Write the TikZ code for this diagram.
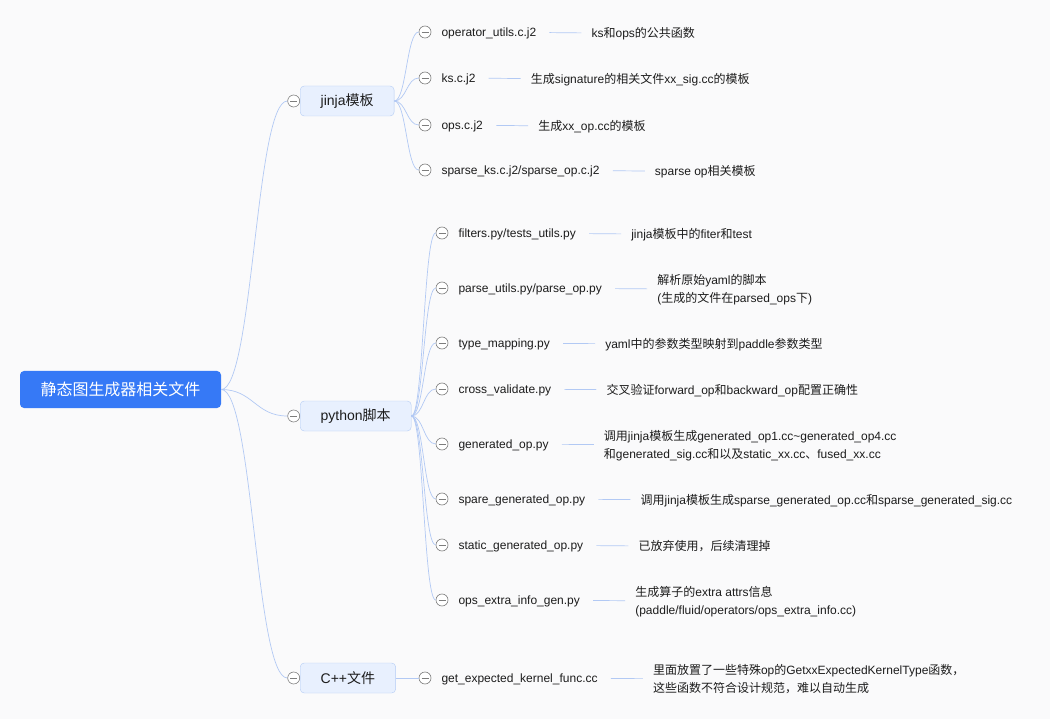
\documentclass[tikz,border=0pt]{standalone}
\usepackage{fontspec}
\setmainfont{Liberation Sans}
\newfontfamily\cjkfont{Noto Sans CJK SC}
\usetikzlibrary{positioning}
% CJK runs switch font by themselves
\XeTeXinterchartokenstate=1
\newXeTeXintercharclass\cjkclass
\newcount\cjkcode
\cjkcode="3000
\loop\ifnum\cjkcode<"A000 \XeTeXcharclass\cjkcode=\cjkclass \advance\cjkcode by 1 \repeat
\cjkcode="FF00
\loop\ifnum\cjkcode<"FFF0 \XeTeXcharclass\cjkcode=\cjkclass \advance\cjkcode by 1 \repeat
\XeTeXinterchartoks 0 \cjkclass={\begingroup\cjkfont}
\XeTeXinterchartoks 4095 \cjkclass={\begingroup\cjkfont}
\XeTeXinterchartoks \cjkclass 0={\endgroup}
\XeTeXinterchartoks \cjkclass 4095={\endgroup}

\definecolor{bgcolor}{RGB}{250,250,251}
\definecolor{rootblue}{RGB}{54,121,246}
\definecolor{topicfill}{RGB}{232,240,254}
\definecolor{topicline}{RGB}{180,204,245}
\definecolor{linkblue}{RGB}{178,201,244}
\definecolor{foldgray}{RGB}{125,125,125}
\definecolor{textdark}{RGB}{28,28,28}
\tikzset{
    rootnode/.style = {draw=none, fill=rootblue, rectangle, rounded corners=4pt, text=white,
      minimum width=201pt, minimum height=37pt, font=\fontsize{16}{20}\selectfont},
    topicnode/.style = {draw=topicline, fill=topicfill, rectangle, rounded corners=4pt, anchor=west,
      inner xsep=20.5pt, minimum height=30pt, text=textdark, font=\fontsize{14}{18}\selectfont},
    foldnode/.style = {circle, draw=foldgray, fill=white, minimum size=12pt, inner sep=0pt, line width=0.6pt,
      path picture={\draw[foldgray, line width=0.6pt] ([xshift=2.5pt]path picture bounding box.west)
      -- ([xshift=-2.5pt]path picture bounding box.east);}},
    leafnode/.style = {rectangle, inner sep=0pt, text height=11pt, text depth=1.5pt, text=textdark,
      font=\fontsize{12}{18}\selectfont},
    descnode/.style = {rectangle, inner sep=0pt, align=left, yshift=-1.5pt, text=textdark,
      font=\fontsize{12}{18}\selectfont},
    link/.style = {draw=linkblue, line width=0.7pt, out=0, in=180, out distance=12pt, in distance=12pt},
    rootlink/.style = {link, out distance=32pt, in distance=32pt},
    gap/.style = {draw=linkblue, line width=0.7pt, shorten <=13pt, shorten >=10pt}
}

\begin{document}
\begin{tikzpicture}[x=1pt, y=-1pt]
\fill[bgcolor] (0,0) rectangle (1050,719);

\node [rootnode, name=root] at (120.5,389.5) {静态图生成器相关文件};

\node [topicnode, name=jinja] at (300,101) {jinja模板};
\node [topicnode, name=python] at (300,416) {python脚本};
\node [topicnode, name=cpp] at (300,678) {C++文件};
\node [foldnode, name=fJ, left=0pt of jinja] {};
\node [foldnode, name=fP, left=0pt of python] {};
\node [foldnode, name=fC, left=0pt of cpp] {};

\draw (root) edge[rootlink] (fJ) edge[rootlink] (fP) edge[rootlink] (fC);

% jinja
\node [foldnode, name=fJ1] at (425,32) {};
\node [leafnode, name=J1, right=10pt of fJ1] {operator\_utils.c.j2};
\node [descnode, name=J1d, right=55pt of J1] {ks和ops的公共函数};
\node [foldnode, name=fJ2] at (425,78) {};
\node [leafnode, name=J2, right=10pt of fJ2] {ks.c.j2};
\node [descnode, name=J2d, right=55pt of J2] {生成signature的相关文件xx\_sig.cc的模板};
\node [foldnode, name=fJ3] at (425,125) {};
\node [leafnode, name=J3, right=10pt of fJ3] {ops.c.j2};
\node [descnode, name=J3d, right=55pt of J3] {生成xx\_op.cc的模板};
\node [foldnode, name=fJ4] at (425,170) {};
\node [leafnode, name=J4, right=10pt of fJ4] {sparse\_ks.c.j2/sparse\_op.c.j2};
\node [descnode, name=J4d, right=55pt of J4] {sparse op相关模板};

\draw (jinja) edge[link] (fJ1) edge[link] (fJ2) edge[link] (fJ3) edge[link] (fJ4);
\draw (J1) edge[gap] (J1d) (J2) edge[gap] (J2d) (J3) edge[gap] (J3d) (J4) edge[gap] (J4d);

% python
\node [foldnode, name=fP1] at (442,233) {};
\node [leafnode, name=P1, right=10pt of fP1] {filters.py/tests\_utils.py};
\node [descnode, name=P1d, right=55pt of P1] {jinja模板中的fiter和test};
\node [foldnode, name=fP2] at (442,288) {};
\node [leafnode, name=P2, right=10pt of fP2] {parse\_utils.py/parse\_op.py};
\node [descnode, name=P2d, right=55pt of P2] {解析原始yaml的脚本\\(生成的文件在parsed\_ops下)};
\node [foldnode, name=fP3] at (442,343) {};
\node [leafnode, name=P3, right=10pt of fP3] {type\_mapping.py};
\node [descnode, name=P3d, right=55pt of P3] {yaml中的参数类型映射到paddle参数类型};
\node [foldnode, name=fP4] at (442,389) {};
\node [leafnode, name=P4, right=10pt of fP4] {cross\_validate.py};
\node [descnode, name=P4d, right=55pt of P4] {交叉验证forward\_op和backward\_op配置正确性};
\node [foldnode, name=fP5] at (442,444) {};
\node [leafnode, name=P5, right=10pt of fP5] {generated\_op.py};
\node [descnode, name=P5d, right=55pt of P5] {调用jinja模板生成generated\_op1.cc\textasciitilde generated\_op4.cc\\和generated\_sig.cc和以及static\_xx.cc、fused\_xx.cc};
\node [foldnode, name=fP6] at (442,499) {};
\node [leafnode, name=P6, right=10pt of fP6] {spare\_generated\_op.py};
\node [descnode, name=P6d, right=55pt of P6] {调用jinja模板生成sparse\_generated\_op.cc和sparse\_generated\_sig.cc};
\node [foldnode, name=fP7] at (442,545) {};
\node [leafnode, name=P7, right=10pt of fP7] {static\_generated\_op.py};
\node [descnode, name=P7d, right=55pt of P7] {已放弃使用，后续清理掉};
\node [foldnode, name=fP8] at (442,600) {};
\node [leafnode, name=P8, right=10pt of fP8] {ops\_extra\_info\_gen.py};
\node [descnode, name=P8d, right=55pt of P8] {生成算子的extra attrs信息\\(paddle/fluid/operators/ops\_extra\_info.cc)};

\draw (python) edge[link] (fP1) edge[link] (fP2) edge[link] (fP3) edge[link] (fP4)
  edge[link] (fP5) edge[link] (fP6) edge[link] (fP7) edge[link] (fP8);
\draw (P1) edge[gap] (P1d) (P2) edge[gap] (P2d) (P3) edge[gap] (P3d) (P4) edge[gap] (P4d)
  (P5) edge[gap] (P5d) (P6) edge[gap] (P6d) (P7) edge[gap] (P7d) (P8) edge[gap] (P8d);

% C++
\node [foldnode, name=fC1] at (425,678) {};
\node [leafnode, name=C1, right=10pt of fC1] {get\_expected\_kernel\_func.cc};
\node [descnode, name=C1d, right=55pt of C1] {里面放置了一些特殊op的GetxxExpectedKernelType函数，\\这些函数不符合设计规范，难以自动生成};

\draw (cpp) edge[link] (fC1);
\draw (C1) edge[gap] (C1d);

\end{tikzpicture}
\end{document}
